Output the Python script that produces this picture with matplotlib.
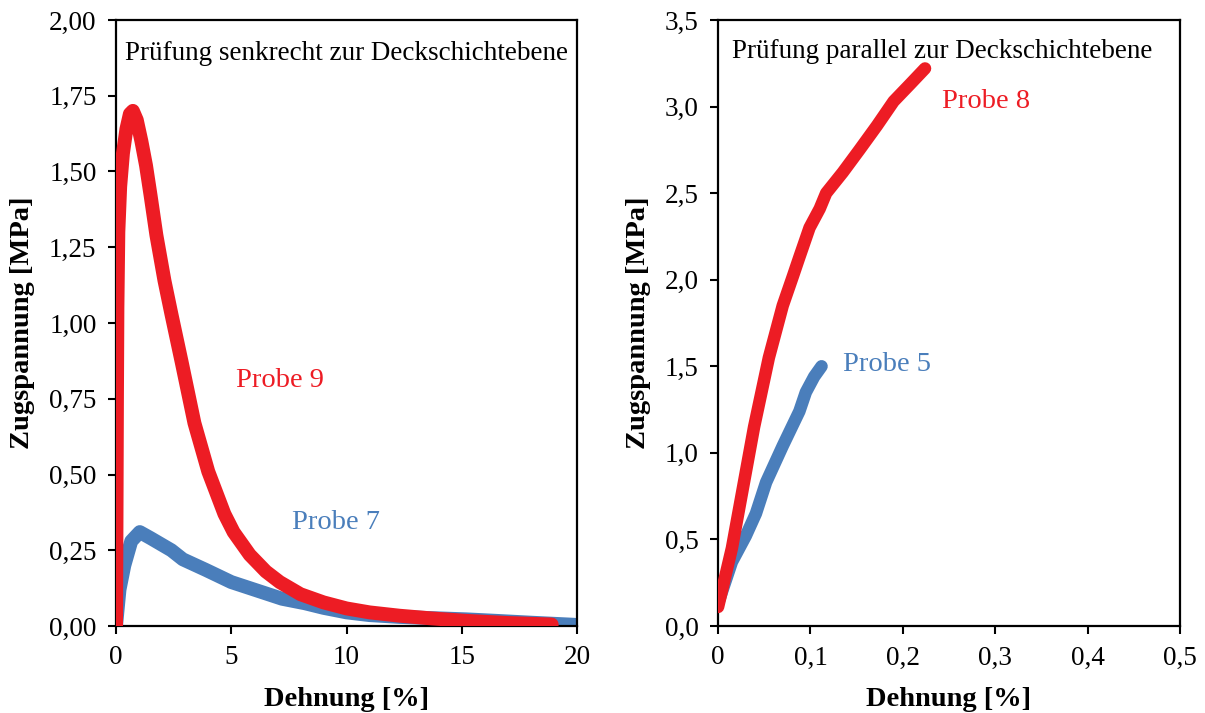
import matplotlib
matplotlib.use("Agg")
import matplotlib.pyplot as plt
from matplotlib.ticker import FuncFormatter

plt.rcParams['font.family'] = ['Liberation Serif', 'DejaVu Serif']

RED = '#ED1C24'
BLUE = '#4A7EBB'

# Probe 9 (senkrecht) - Dehnung [%], Zugspannung [MPa]
probe9_x = [0.0, 0.02, 0.04, 0.06, 0.1, 0.18, 0.3, 0.45, 0.6, 0.73, 0.9, 1.1, 1.3,
            1.5, 1.75, 2.1, 2.4, 2.85, 3.4, 4.0, 4.7, 5.1, 5.8, 6.5, 7.1, 8.0,
            9.0, 10.0, 11.0, 12.3, 13.7, 15.2, 17.0, 18.9]
probe9_y = [0.0, 0.35, 0.75, 1.05, 1.3, 1.45, 1.56, 1.64, 1.69, 1.70, 1.67, 1.60, 1.52,
            1.42, 1.29, 1.14, 1.03, 0.87, 0.67, 0.51, 0.37, 0.31, 0.235, 0.18, 0.145, 0.105,
            0.078, 0.058, 0.045, 0.034, 0.025, 0.017, 0.010, 0.005]

# Probe 7 (senkrecht)
probe7_x = [0.0, 0.15, 0.36, 0.66, 1.03, 1.5, 2.4, 2.9, 3.9, 5.0, 6.0, 7.2, 8.2,
            9.0, 10.0, 11.0, 12.3, 13.7, 15.2, 16.5, 18.0, 19.9]
probe7_y = [0.0, 0.12, 0.20, 0.28, 0.31, 0.29, 0.25, 0.22, 0.185, 0.145, 0.12, 0.09, 0.075,
            0.06, 0.045, 0.036, 0.030, 0.026, 0.022, 0.017, 0.011, 0.004]

# Probe 8 (parallel)
probe8_x = [0.0, 0.015, 0.039, 0.055, 0.07, 0.081, 0.088, 0.099, 0.11, 0.117,
            0.135, 0.153, 0.172, 0.19, 0.208, 0.224]
probe8_y = [0.11, 0.45, 1.15, 1.55, 1.85, 2.02, 2.13, 2.30, 2.41, 2.50,
            2.62, 2.75, 2.89, 3.03, 3.13, 3.22]

# Probe 5 (parallel)
probe5_x = [0.0, 0.015, 0.03, 0.041, 0.052, 0.07, 0.088, 0.095, 0.104, 0.112]
probe5_y = [0.13, 0.37, 0.52, 0.65, 0.83, 1.04, 1.24, 1.35, 1.44, 1.50]

left_yticks = [0, 0.25, 0.5, 0.75, 1.0, 1.25, 1.5, 1.75, 2.0]
left_xticks = [0, 5, 10, 15, 20]
right_yticks = [0, 0.5, 1.0, 1.5, 2.0, 2.5, 3.0, 3.5]
right_xticks = [0, 0.1, 0.2, 0.3, 0.4, 0.5]


def comma(fmt):
    def f(v, pos):
        if fmt == 'x1':
            return '0' if v == 0 else f"{v:.1f}".replace('.', ',')
        return fmt.format(v).replace('.', ',')
    return FuncFormatter(f)


def style_axes(ax):
    for sp in ax.spines.values():
        sp.set_linewidth(1.6)
        sp.set_color('black')
    ax.tick_params(direction='out', length=6, width=1.5, labelsize=19.5, pad=8)
    ax.set_xlabel('Dehnung [%]', fontsize=20.5, fontweight='bold', labelpad=12)
    ax.set_ylabel('Zugspannung [MPa]', fontsize=20.5, fontweight='bold', labelpad=10)


fig = plt.figure(figsize=(12.05, 7.13), dpi=100)
ax1 = fig.add_axes([0.0963, 0.122, 0.3826, 0.850])
ax2 = fig.add_axes([0.5959, 0.122, 0.3834, 0.850])

# left panel
ax1.plot(probe7_x, probe7_y, color=BLUE, lw=10, solid_capstyle='round', solid_joinstyle='round', zorder=2)
ax1.plot(probe9_x, probe9_y, color=RED, lw=10, solid_capstyle='round', solid_joinstyle='round', zorder=3)
ax1.set_xlim(0, 20)
ax1.set_ylim(0, 2.0)
ax1.set_xticks(left_xticks)
ax1.set_yticks(left_yticks)
ax1.yaxis.set_major_formatter(comma('{:.2f}'))
ax1.xaxis.set_major_formatter(comma('{:.0f}'))
style_axes(ax1)
ax1.text(0.39, 1.89, 'Prüfung senkrecht zur Deckschichtebene', fontsize=19.5, va='center', ha='left')
ax1.text(5.2, 0.81, 'Probe 9', color=RED, fontsize=20.5, va='center', ha='left')
ax1.text(7.64, 0.343, 'Probe 7', color=BLUE, fontsize=20.5, va='center', ha='left')

# right panel
ax2.plot(probe5_x, probe5_y, color=BLUE, lw=9, solid_capstyle='round', solid_joinstyle='round', zorder=2)
ax2.plot(probe8_x, probe8_y, color=RED, lw=9, solid_capstyle='round', solid_joinstyle='round', zorder=3)
ax2.set_xlim(0, 0.5)
ax2.set_ylim(0, 3.5)
ax2.set_xticks(right_xticks)
ax2.set_yticks(right_yticks)
ax2.yaxis.set_major_formatter(comma('{:.1f}'))
ax2.xaxis.set_major_formatter(comma('x1'))
style_axes(ax2)
ax2.text(0.015, 3.32, 'Prüfung parallel zur Deckschichtebene', fontsize=19.5, va='center', ha='left')
ax2.text(0.242, 3.03, 'Probe 8', color=RED, fontsize=20.5, va='center', ha='left')
ax2.text(0.135, 1.51, 'Probe 5', color=BLUE, fontsize=20.5, va='center', ha='left')

fig.savefig('out.png', dpi=100, facecolor='white')
